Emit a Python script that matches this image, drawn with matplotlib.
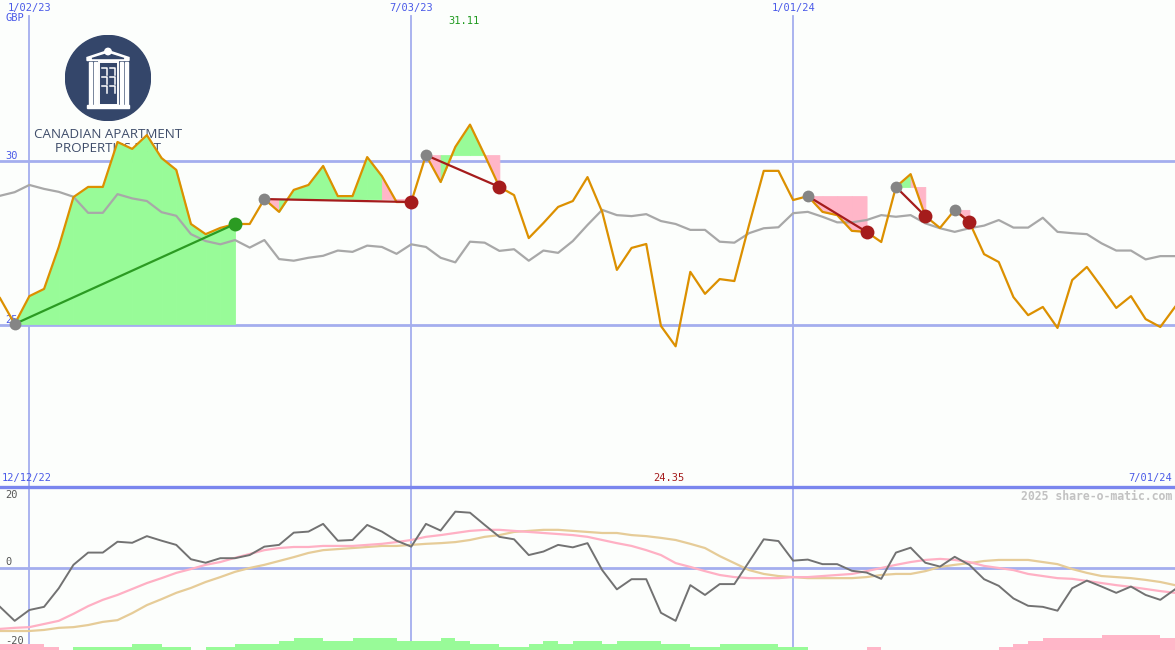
import numpy as np
import pandas as pd
import matplotlib
matplotlib.use('Agg')
import matplotlib.pyplot as plt
import matplotlib.dates as mdates
import matplotlib.transforms as mtransforms
from matplotlib.patches import Circle, Rectangle, Polygon

# weekly closes, 19 Dec 2022 .. 1 Jul 2024
weeks = pd.date_range('2022-12-19', periods=81, freq='7D')

price = [25.82, 25.03, 25.88, 26.10, 27.38, 28.90, 29.21, 29.21, 30.58, 30.37,
         30.79, 30.09, 29.73, 28.08, 27.77, 27.96, 28.08, 28.08, 28.84, 28.45,
         29.12, 29.27, 29.85, 28.93, 28.93, 30.12, 29.54, 28.75, 28.75, 30.18,
         29.36, 30.43, 31.11, 30.18, 29.21, 28.96, 27.65, 28.11, 28.60, 28.78,
         29.51, 28.45, 26.68, 27.35, 27.47, 24.97, 24.35, 26.62, 25.95, 26.40,
         26.34, 28.05, 29.70, 29.70, 28.81, 28.93, 28.45, 28.35, 27.87, 27.84,
         27.53, 29.21, 29.60, 28.32, 27.96, 28.51, 28.14, 27.16, 26.92, 25.85,
         25.30, 25.55, 24.91, 26.37, 26.77, 26.16, 25.52, 25.88, 25.18, 24.94,
         25.55]

price_avg = [28.94, 29.05, 29.27, 29.15, 29.06, 28.91, 28.42, 28.42, 28.99, 28.86,
             28.78, 28.44, 28.33, 27.77, 27.56, 27.46, 27.59, 27.36, 27.59, 27.01,
             26.96, 27.05, 27.11, 27.27, 27.23, 27.42, 27.38, 27.17, 27.46, 27.38,
             27.05, 26.91, 27.54, 27.51, 27.26, 27.31, 26.96, 27.27, 27.20, 27.56,
             28.05, 28.51, 28.35, 28.32, 28.38, 28.17, 28.08, 27.90, 27.90, 27.54,
             27.51, 27.80, 27.95, 27.98, 28.41, 28.45, 28.30, 28.13, 28.13, 28.20,
             28.35, 28.30, 28.35, 28.10, 27.95, 27.84, 27.95, 28.03, 28.20, 27.97,
             27.97, 28.27, 27.84, 27.80, 27.77, 27.49, 27.27, 27.27, 27.00, 27.10,
             27.10]

# lower panel
osc = [-11.1, -15.1, -12.0, -11.1, -5.8, 0.9, 4.4, 4.4, 7.5, 7.2,
       9.1, 7.8, 6.6, 2.5, 1.5, 2.8, 2.8, 3.7, 6.1, 6.6,
       10.1, 10.4, 12.6, 7.8, 8.0, 12.3, 10.4, 7.8, 6.1, 12.6,
       10.7, 16.1, 15.8, 12.3, 8.9, 8.2, 3.7, 4.7, 6.6, 5.9,
       7.1, -0.6, -6.1, -3.2, -3.2, -12.8, -15.1, -4.9, -7.7, -4.6,
       -4.6, 1.8, 8.2, 7.7, 2.1, 2.4, 1.1, 1.1, -0.8, -1.3,
       -3.1, 4.4, 5.8, 1.5, 0.4, 3.2, 0.9, -3.2, -5.1, -8.7,
       -10.8, -11.1, -12.2, -5.8, -3.6, -5.3, -7.1, -5.3, -7.7, -9.1,
       -6.1]

osc_fast = [-17.4, -17.1, -16.9, -16.0, -15.1, -13.1, -10.9, -9.1, -7.7, -6.0,
            -4.3, -2.9, -1.4, -0.3, 0.9, 1.7, 2.9, 4.0, 5.1, 5.7,
            6.0, 6.0, 6.3, 6.3, 6.3, 6.6, 6.9, 7.4, 8.0, 8.9,
            9.4, 10.0, 10.6, 10.9, 10.9, 10.6, 10.3, 10.0, 9.7, 9.4,
            8.9, 8.0, 7.1, 6.3, 5.1, 3.7, 1.4, 0.3, -0.9, -2.0,
            -2.6, -2.9, -2.9, -2.9, -2.6, -2.6, -2.3, -2.0, -1.7, -0.9,
            0.0, 0.9, 1.7, 2.3, 2.6, 2.3, 1.7, 0.6, 0.0, -0.6,
            -1.7, -2.3, -2.9, -3.1, -3.7, -4.3, -4.9, -5.4, -6.0, -6.6,
            -7.1]

osc_slow = [-18.0, -18.0, -18.0, -17.7, -17.1, -16.9, -16.3, -15.4, -14.9, -12.9,
            -10.6, -8.9, -7.1, -5.7, -4.0, -2.6, -1.1, 0.0, 0.9, 2.0,
            3.1, 4.3, 5.1, 5.4, 5.7, 6.0, 6.3, 6.3, 6.6, 6.9,
            7.1, 7.4, 8.0, 8.9, 9.4, 10.3, 10.6, 10.9, 10.9, 10.6,
            10.3, 10.0, 10.0, 9.4, 9.1, 8.6, 8.0, 6.9, 5.7, 3.4,
            1.4, -0.6, -1.7, -2.3, -2.6, -2.9, -2.9, -2.9, -2.9, -2.6,
            -2.0, -1.7, -1.7, -0.9, 0.3, 0.9, 1.4, 2.0, 2.3, 2.3,
            2.3, 1.7, 1.1, -0.3, -1.4, -2.3, -2.6, -2.9, -3.4, -4.0,
            -4.9]

# weekly bars along the bottom (green +, pink -)
hist = [-1.7, -1.7, -1.7, -0.8, 0, 0.8, 0.8, 0.8, 0.8, 1.7,
        1.7, 0.8, 0.8, 0, 0.8, 0.8, 1.7, 1.7, 1.7, 2.7,
        3.3, 3.3, 2.7, 2.7, 3.3, 3.3, 3.3, 2.7, 2.7, 2.7,
        3.3, 2.7, 1.7, 1.7, 0.8, 0.8, 1.7, 2.7, 1.7, 2.7,
        2.7, 1.7, 2.7, 2.7, 2.7, 1.7, 1.7, 0.8, 0.8, 1.7,
        1.7, 1.7, 1.7, 0.8, 0.8, 0, 0, 0, 0, -0.8,
        0, 0, 0, 0, 0, 0, 0, 0, -0.8, -1.7,
        -2.7, -3.3, -3.3, -3.3, -3.3, -4.3, -4.3, -4.3, -4.3, -3.3]

# trades: week index of entry and exit
trade_entry = [1, 18, 29, 55, 61, 65]
trade_exit = [16, 28, 34, 59, 63, 66]

price_levels = [25, 30]
grid_labels = ['1/02/23', '7/03/23', '1/01/24']
osc_labels = ['20', '0', '-20']

# colours
bg = '#fcfefc'
grid_col = '#a4aeee'
sep_col = '#7a86ee'
blue_txt = '#4a5ae8'
orange = '#dc9000'
avg_col = '#a8a8a8'
fill_up = '#98fb98'
fill_dn = '#ffb6c8'
win_col = '#2b9b22'
loss_col = '#a51c1c'
mono = 'DejaVu Sans Mono'

W, H = 1175, 650
top_h = 487

x = mdates.date2num(weeks.to_pydatetime())
price = np.array(price)
grid_x = mdates.date2num(pd.to_datetime(grid_labels, format='%m/%d/%y').to_pydatetime())

fig = plt.figure(figsize=(W / 100, H / 100), dpi=100, facecolor=bg)
ax = fig.add_axes([0, (H - top_h) / H, 1, top_h / H], zorder=1)
axb = fig.add_axes([0, 0, 1, (H - top_h) / H], zorder=1)
for a in (ax, axb):
    a.patch.set_visible(False)
    a.set_xlim(x[0], x[-1])
    a.set_xticks([])
    a.set_yticks([])
    for s in a.spines.values():
        s.set_visible(False)
ax.set_ylim(20.06, 34.91)
axb.set_ylim(-23.43, 23.14)

# logo (sits under the chart)
lax = fig.add_axes([65 / W, 1 - 121 / H, 86 / W, 86 / H], zorder=0)
lax.set_xlim(0, 86)
lax.set_ylim(86, 0)
lax.axis('off')
navy = '#34466a'
lax.add_patch(Circle((43, 43), 42.5, color=navy))
lax.add_patch(Polygon([(22, 25.5), (64, 25.5), (64, 22.5), (43, 15.5), (22, 22.5)],
                      closed=True, color='white'))
lax.add_patch(Polygon([(27, 23.5), (59, 23.5), (43, 18.5)], closed=True, color=navy))
lax.add_patch(Circle((43, 16.5), 3.2, color='white'))
for cx in (23.5, 28.5, 55, 60):
    lax.add_patch(Rectangle((cx, 27), 3, 43, color='white'))
lax.add_patch(Rectangle((33.5, 27), 19, 43, fill=False, ec='white', lw=1.4))
for ry in (33, 42, 51):
    for rx in (37, 45):
        lax.plot([rx, rx + 5, rx + 5], [ry, ry, ry + 7], color='white', lw=1.1)
lax.add_patch(Rectangle((22, 70), 42, 3, color='white'))
fig.text(108 / W, 1 - 134 / H, 'CANADIAN APARTMENT', ha='center', va='center',
         color='#3f4d6a', fontsize=9.6, family='Open Sans', zorder=0.5)
fig.text(108 / W, 1 - 149 / H, 'PROPERTIES REIT', ha='center', va='center',
         color='#3f4d6a', fontsize=9.6, family='Open Sans', zorder=0.5)

# grid
for lv in price_levels:
    ax.axhline(lv, color=grid_col, lw=2, zorder=1)
for gx in grid_x:
    ax.axvline(gx, ymax=1 - 16 / top_h, color=grid_col, lw=1.3, zorder=1)
    axb.axvline(gx, color=grid_col, lw=1.3, zorder=1)
axb.axhline(0, color=grid_col, lw=2, zorder=1)
axb.axhline(axb.get_ylim()[1], color=sep_col, lw=2.4, clip_on=False, zorder=5)

# trade shading, one week at a time
for a, b in zip(trade_entry, trade_exit):
    p0 = price[a]
    for i in range(a, b):
        col = fill_up if price[i + 1] >= p0 else fill_dn
        ax.fill_between(x[i:i + 2], price[i:i + 2], p0, color=col, lw=0.6, zorder=2)

ax.plot(x, price_avg, color=avg_col, lw=1.6, zorder=3)
ax.plot(x, price, color=orange, lw=1.6, zorder=4)

for a, b in zip(trade_entry, trade_exit):
    col = win_col if price[b] > price[a] else loss_col
    ax.plot([x[a], x[b]], [price[a], price[b]], color=col, lw=1.6, zorder=5)
    ax.plot(x[a], price[a], 'o', ms=8.5, color='#858585', mec='none', zorder=6)
    ax.plot(x[b], price[b], 'o', ms=10, color=col, mec='none', zorder=6)

# labels on the price panel
bt = mtransforms.blended_transform_factory(ax.transData, ax.transAxes)
for gx, lab in zip(grid_x, grid_labels):
    ax.text(gx, 1 - 8 / top_h, lab, transform=bt, ha='center', va='center',
            color=blue_txt, fontsize=7.5, family=mono)
imax, imin = int(np.argmax(price)), int(np.argmin(price))
ax.text(x[imax] - 3, 1 - 21 / top_h, f'{price[imax]:.2f}', transform=bt, ha='center',
        va='center', color='#1f9a1f', fontsize=7.5, family=mono)
ax.text(x[imin] - 3, (top_h - 478) / top_h, f'{price[imin]:.2f}', transform=bt,
        ha='center', va='center', color=loss_col, fontsize=7.5, family=mono)
fig.text(5 / W, 1 - 18 / H, 'GBP', ha='left', va='center', color=blue_txt,
         fontsize=7.5, family=mono)
lt = mtransforms.blended_transform_factory(ax.transAxes, ax.transData)
for lv in price_levels:
    ax.text(5 / W, lv, str(lv), transform=lt, ha='left', va='bottom',
            color=blue_txt, fontsize=7.5, family=mono, zorder=2)
fig.text(2 / W, 1 - 478 / H, '12/12/22', ha='left', va='center', color=blue_txt,
         fontsize=7.5, family=mono)
fig.text(1172 / W, 1 - 478 / H, '7/01/24', ha='right', va='center', color=blue_txt,
         fontsize=7.5, family=mono)

# lower panel
axb.bar(x[:-1], np.abs(hist), width=np.diff(x), align='edge', bottom=axb.get_ylim()[0],
        color=[fill_up if h > 0 else fill_dn for h in hist], lw=0, zorder=2)
axb.plot(x, osc_slow, color='#e6cc98', lw=1.6, zorder=3)
axb.plot(x, osc_fast, color='#ffb0c4', lw=1.6, zorder=3)
axb.plot(x, osc, color='#727272', lw=1.4, zorder=4)

for lab, py in zip(osc_labels, (495, 562, 641)):
    fig.text(5 / W, 1 - py / H, lab, ha='left', va='center', color='#555555',
             fontsize=7.5, family=mono, zorder=6)
fig.text(1172 / W, 1 - 496 / H, '2025 share-o-matic.com', ha='right', va='center',
         color='#c2c2c2', fontsize=8.3, family=mono, fontweight='bold')

fig.savefig('out.png', dpi=100, facecolor=bg)
